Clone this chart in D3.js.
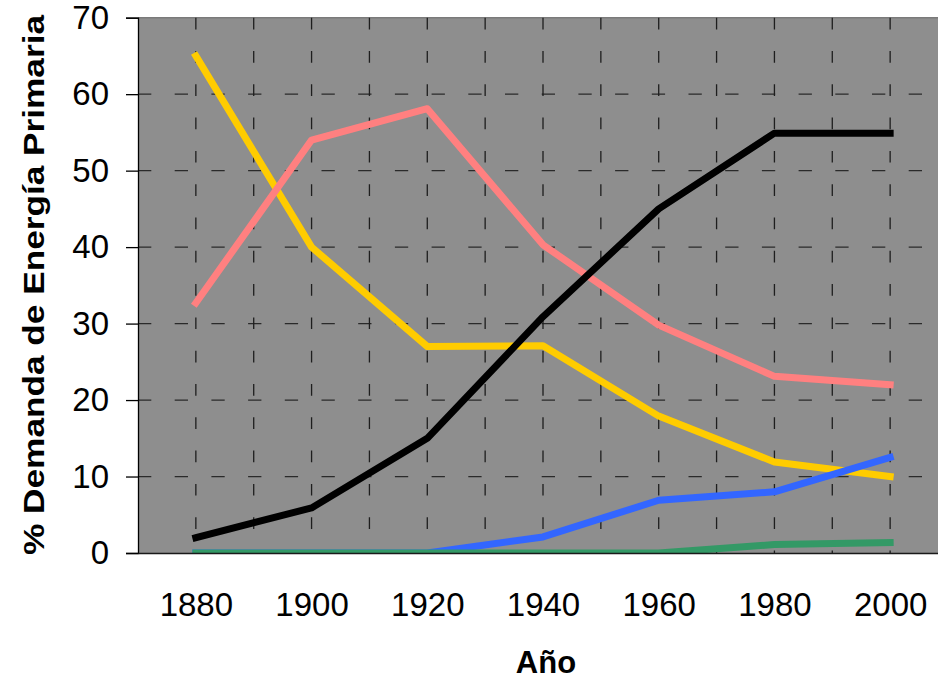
<!DOCTYPE html>
<html>
<head>
<meta charset="utf-8">
<script src="https://cdn.jsdelivr.net/npm/d3@7"></script>
<style>
  html, body { margin: 0; padding: 0; background: #fff; }
  svg { display: block; font-family: "Liberation Sans", Arial, sans-serif; }
</style>
</head>
<body>
<svg id="chart" width="938" height="679"></svg>
<script>
// ---- data ----
const years = [1880, 1900, 1920, 1940, 1960, 1980, 2000];
const yellowSeries = [65, 40, 27, 27.1, 17.9, 11.9, 10];
const pinkSeries   = [32.7, 54, 58.1, 40.3, 29.8, 23.1, 22];
const blackSeries  = [2, 5.9, 15, 30.9, 45, 54.9, 54.9];
const blueSeries   = [0, 0, 0, 2.1, 6.9, 8, 12.5];
const greenSeries  = [0, 0, 0, 0, 0, 1.1, 1.35];
const yTicks = [0, 10, 20, 30, 40, 50, 60, 70];
const xLabels = [1880, 1900, 1920, 1940, 1960, 1980, 2000];
const gridYears = [1880, 1890, 1900, 1910, 1920, 1930, 1940, 1950, 1960, 1970, 1980, 1990, 2000];
const yTitle = "% Demanda de Energía Primaria";
const xTitle = "Año";

const seriesList = [
  { values: yellowSeries, color: "#FFCC00" },
  { values: pinkSeries,   color: "#FF8080" },
  { values: blackSeries,  color: "#000000" },
  { values: blueSeries,   color: "#3366FF" },
  { values: greenSeries,  color: "#339966" }
];

// ---- layout ----
const svg = d3.select("#chart");
const pLeft = 138, pRight = 948, pTop = 17.7, pBottom = 553;

const x = d3.scaleLinear().domain([1870, 2010]).range([pLeft, pRight]);
const y = d3.scaleLinear().domain([0, 70]).range([pBottom, pTop]);

// plot background
svg.append("rect")
  .attr("x", pLeft).attr("y", pTop)
  .attr("width", pRight - pLeft).attr("height", pBottom - pTop)
  .attr("fill", "#8e8e8e");

// top border
svg.append("line")
  .attr("x1", pLeft).attr("x2", pRight)
  .attr("y1", pTop).attr("y2", pTop)
  .attr("stroke", "#7a7a7a").attr("stroke-width", 1.5);

// horizontal gridlines
svg.append("g").selectAll("line")
  .data(yTicks.filter(d => d > 0 && d < 70))
  .join("line")
  .attr("x1", pLeft).attr("x2", pRight)
  .attr("y1", d => y(d)).attr("y2", d => y(d))
  .attr("stroke", "#2a2a2a").attr("stroke-width", 1.3)
  .attr("stroke-dasharray", "13.3,23.4");

// vertical gridlines
svg.append("g").selectAll("line")
  .data(gridYears)
  .join("line")
  .attr("x1", d => x(d)).attr("x2", d => x(d))
  .attr("y1", pTop).attr("y2", pBottom)
  .attr("stroke", "#1e1e1e").attr("stroke-width", 1.3)
  .attr("stroke-dasharray", "11.7,21.6");

// clip for lines
svg.append("clipPath").attr("id", "plotclip")
  .append("rect")
  .attr("x", pLeft).attr("y", pTop - 10)
  .attr("width", pRight - pLeft).attr("height", pBottom - pTop + 10);

const line = d3.line()
  .x((d, i) => x(years[i]))
  .y(d => y(d));

svg.append("g").attr("clip-path", "url(#plotclip)")
  .selectAll("path")
  .data(seriesList)
  .join("path")
  .attr("d", s => line(s.values))
  .attr("fill", "none")
  .attr("stroke", s => s.color)
  .attr("stroke-width", 7)
  .attr("stroke-linejoin", "round")
  .attr("stroke-linecap", "square");

// y axis
const yAxis = svg.append("g")
  .attr("transform", `translate(${pLeft},0)`)
  .call(d3.axisLeft(y).tickValues(yTicks).tickSize(12).tickPadding(17).tickFormat(d3.format("d")));
yAxis.select(".domain").attr("stroke", "#000").attr("stroke-width", 1.3);
yAxis.selectAll(".tick line").attr("stroke", "#000").attr("stroke-width", 1.3);
yAxis.selectAll(".tick text")
  .attr("font-size", 33)
  .attr("font-family", "'Liberation Sans', Arial, sans-serif")
  .attr("fill", "#000");

// x axis
const xAxis = svg.append("g")
  .attr("transform", `translate(0,${pBottom})`)
  .call(d3.axisBottom(x).tickValues(xLabels).tickSize(0).tickPadding(40).tickFormat(d3.format("d")));
xAxis.select(".domain").attr("stroke", "#1a1a1a").attr("stroke-width", 1.3);
xAxis.selectAll(".tick text")
  .attr("font-size", 33)
  .attr("font-family", "'Liberation Sans', Arial, sans-serif")
  .attr("fill", "#000");

// axis titles
svg.append("text")
  .attr("x", 546).attr("y", 673)
  .attr("text-anchor", "middle")
  .attr("font-size", 31).attr("font-weight", "bold")
  .attr("fill", "#000")
  .text(xTitle);

svg.append("text")
  .attr("transform", "translate(44,285) rotate(-90)")
  .attr("text-anchor", "middle")
  .attr("font-size", 30).attr("font-weight", "bold")
  .attr("fill", "#000")
  .attr("textLength", 540).attr("lengthAdjust", "spacingAndGlyphs")
  .text(yTitle);
</script>
</body>
</html>
